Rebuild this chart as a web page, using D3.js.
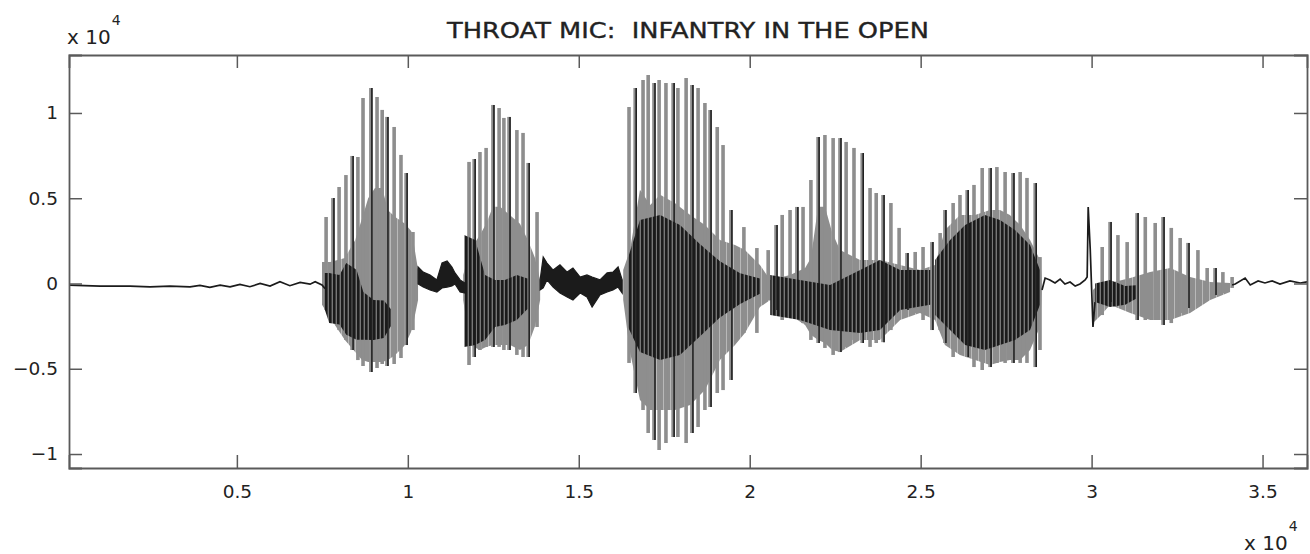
<!DOCTYPE html>
<html>
<head>
<meta charset="utf-8">
<script src="https://cdn.jsdelivr.net/npm/d3@7"></script>
<style>
  body { margin: 0; background: #fff; }
  svg { display: block; }
</style>
</head>
<body>
<div id="chart"></div>
<script>
// axis limits (samples, amplitude) and ticks
var xLimits = [90, 36300];
var yLimits = [-10820, 13400];
var xTicks = [5000, 10000, 15000, 20000, 25000, 30000, 35000];
var yTicks = [-10000, -5000, 0, 5000, 10000];

// quiet stretches of the trace: [sample, amplitude]
var leadTrace = [[90,-90],[1000,-150],[1870,-150],[2460,-200],[3040,-150],[3630,-200],[3920,-110],[4210,-230],[4510,-100],[4800,-200],[5090,-50],[5380,-190],[5680,0],[5970,-150],[6260,100],[6550,-130],[6850,60],[7140,-40],[7290,110],[7490,-90],[7580,-300]];
var gapTrace = [[28550,-380],[28640,320],[28780,210],[28930,30],[29080,260],[29220,-30],[29370,90],[29520,-150],[29660,-30],[29810,210],[29870,380],[29900,4490],[29960,2000],[30040,-2550],[30100,-1090]];
var tailTrace = [[34110,-90],[34200,-30],[34490,320],[34640,-90],[34870,150],[35070,30],[35280,150],[35510,-30],[35800,150],[36100,30],[36300,90]];

// unvoiced hiss between syllables: [sample, high, low]
var noiseBandA = [[10300,970,-30],[10450,670,-210],[10650,500,-380],[10850,210,-500],[11000,1200,-260],[11150,1320,-210],[11290,970,-150],[11380,620,-30],[11530,210,-500],[11670,30,-560]];
var noiseBandB = [[13870,210,-380],[13960,1550,-260],[14070,1200,210],[14250,790,-210],[14450,1090,-560],[14660,670,-790],[14830,910,-970],[15040,380,-560],[15240,500,-790],[15390,380,-1380],[15620,210,-670],[15830,620,-500],[16000,670,-380],[16150,970,-210],[16270,210,-560]];

// voiced syllables: pitch pulses [sample, peak, trough]
var syllable1Pulses = [[7610,3900,-1550],[7810,5010,-2260],[7990,5660,-2730],[8190,6360,-3310],[8370,7480,-3900],[8540,7420,-4490],[8690,10880,-4840],[8920,11470,-5190],[9100,10940,-4960],[9250,10180,-4720],[9390,9770,-4840],[9600,9180,-4720],[9800,7540,-4370],[9950,6480,-3610],[10150,3020,-2730]];
var syllable2Pulses = [[11790,7130,-4780],[11940,7300,-4310],[12110,7710,-3900],[12290,7950,-3720],[12490,10470,-3720],[12670,10290,-3720],[12810,9710,-3900],[12960,9770,-3900],[13190,9000,-4190],[13370,8830,-4310],[13520,7070,-4310],[13780,4190,-2550]];
var syllable3Pulses = [[16470,10350,-4660],[16650,11470,-6420],[16880,11940,-7420],[17030,12230,-8770],[17200,11760,-9180],[17350,11940,-9770],[17550,11760,-9360],[17760,11760,-9000],[17900,11470,-9000],[18140,12050,-9360],[18310,11640,-8770],[18490,11470,-8420],[18690,10590,-7420],[18840,10180,-7240],[19050,9180,-6420],[19220,8120,-6250],[19450,4310,-5660],[19830,3310,-2900],[20210,2080,-2900]];
var syllable4Pulses = [[20540,1960,-970],[20770,3430,-1550],[20950,4020,-2140],[21180,4310,-1730],[21380,4490,-1960],[21560,4490,-2320],[21790,6070,-3310],[22000,8590,-3490],[22200,8710,-3780],[22440,8530,-4190],[22640,8530,-4020],[22820,8300,-3720],[23050,7950,-3310],[23290,7650,-3490],[23520,5600,-3720],[23700,5310,-3490],[23900,5190,-3440],[24130,4720,-2730],[24370,3260,-1730],[24600,1790,-1550],[24840,1850,-1730],[25070,2140,-2140],[25330,2430,-2730]];
var syllable5Pulses = [[25570,2960,-2730],[25710,4310,-3490],[25950,4720,-4310],[26150,5190,-3900],[26360,5480,-4310],[26560,5780,-4900],[26800,6770,-5070],[27030,6770,-4900],[27230,6830,-4660],[27470,6540,-4660],[27700,6480,-4660],[27910,6540,-4660],[28110,6190,-4660],[28350,5890,-4900],[28490,1550,-3900]];
var syllable6Pulses = [[30310,2140,-1850],[30540,3610,-1090],[30770,2840,-970],[31040,2430,-1260],[31330,4130,-2140],[31570,3900,-2140],[31860,3550,-2140],[32090,3900,-2430],[32330,3260,-2320],[32590,2670,-1730],[32820,2380,-1440],[33110,1960,-970],[33380,910,-850],[33610,910,-670],[33840,670,-560],[34110,380,-260]];

// spread of the dense oscillation inside each syllable: [sample, high, low]
var syllable1Spread = [[7490,1260,-1250],[7730,1260,-2020],[8160,1500,-3310],[8460,2550,-4020],[8660,3800,-4490],[8840,5000,-4600],[9040,5600,-4600],[9250,5600,-4600],[9420,4300,-4490],[9630,3900,-4190],[9920,3500,-3610],[10120,3020,-2730],[10300,790,-970]];
var syllable2Spread = [[11620,500,-970],[11820,1960,-3610],[12110,2840,-3900],[12290,3500,-3720],[12490,4500,-3610],[12700,4500,-3610],[12990,4000,-3610],[13280,3500,-3900],[13520,2500,-3610],[13720,1500,-2500],[13870,210,-970]];
var syllable3Spread = [[16300,790,-970],[16500,1960,-4020],[16790,5500,-6830],[17090,4600,-7420],[17380,5200,-7420],[17820,4700,-7420],[18260,4020,-7130],[18690,3430,-6250],[19130,2550,-4490],[19570,2260,-3610],[19860,1960,-2900],[20300,1090,-1380],[20600,210,-970]];
var syllable4Spread = [[20600,210,-970],[21180,500,-1850],[21620,910,-2430],[21790,1500,-3000],[22000,4500,-3310],[22200,4500,-3490],[22410,3000,-3900],[22640,1960,-4020],[23230,1380,-3310],[23810,1380,-3310],[24400,1090,-2140],[24980,790,-1730],[25420,1090,-2140]];
var syllable5Spread = [[25420,1090,-2140],[25710,3140,-3610],[26150,4020,-4190],[26590,4020,-4490],[27030,4310,-4780],[27320,4310,-4600],[27610,4020,-4490],[27910,3430,-4490],[28200,2550,-3900],[28490,1380,-2550],[28550,210,-380]];
var syllable6Spread = [[30040,-380,-2320],[30280,90,-1850],[30540,30,-1250],[31130,320,-1730],[31710,670,-2140],[32300,910,-2140],[32880,380,-1730],[33470,90,-970],[34050,30,-500]];

// darkest core of each syllable: [sample, high, low]
var syllable1Core = [[7550,620,-1400],[7700,620,-2320],[8000,500,-2400],[8200,1200,-3000],[8500,800,-3300],[8700,-500,-3300],[9000,-970,-3310],[9300,-1000,-3200],[9500,-1500,-2500]];
var syllable2Core = [[11650,2840,-3720],[11970,2550,-3610],[12260,500,-3310],[12550,210,-2550],[12840,210,-2430],[13190,500,-2140],[13500,300,-1500]];
var syllable3Core = [[16440,1500,-2550],[16790,3720,-4020],[17380,4020,-4490],[17960,3430,-4190],[18550,2300,-3100],[19130,1300,-2000],[19720,600,-1200],[20300,300,-600]];
var syllable4Core = [[20600,500,-1850],[21470,210,-2140],[22350,-90,-2730],[23230,790,-2900],[23810,1380,-2730],[24400,790,-1550],[25280,790,-1250]];
var syllable5Core = [[25420,1380,-1850],[25860,2550,-2730],[26300,3430,-3610],[26880,4020,-3900],[27320,3720,-3610],[27760,3140,-3310],[28200,2260,-2730],[28490,790,-1250]];
var syllable6Core = [[30100,0,-1090],[30540,200,-1380],[30980,-150,-1250],[31300,-100,-900]];

var syllables = [
  {pulses: syllable1Pulses, spread: syllable1Spread, core: syllable1Core},
  {pulses: syllable2Pulses, spread: syllable2Spread, core: syllable2Core},
  {pulses: syllable3Pulses, spread: syllable3Spread, core: syllable3Core},
  {pulses: syllable4Pulses, spread: syllable4Spread, core: syllable4Core},
  {pulses: syllable5Pulses, spread: syllable5Spread, core: syllable5Core},
  {pulses: syllable6Pulses, spread: syllable6Spread, core: syllable6Core}
];

var svgWidth = 1310;
var svgHeight = 554;
var margin = {top: 55, right: 3, bottom: 86, left: 69};
var width = svgWidth - margin.left - margin.right;
var height = svgHeight - margin.top - margin.bottom;

var grey = "#8e8e8e";
var ink = "#1b1b1b";
var axisColor = "#5a5a5a";
var font = "'DejaVu Sans', Verdana, sans-serif";

var svg = d3.select("#chart").append("svg")
  .attr("width", svgWidth)
  .attr("height", svgHeight);

// striped fills that mimic the tightly packed oscillation
var defs = svg.append("defs");
var stripes = defs.append("pattern")
  .attr("id", "coreStripes")
  .attr("patternUnits", "userSpaceOnUse")
  .attr("width", 4).attr("height", 8);
stripes.append("rect").attr("width", 4).attr("height", 8).attr("fill", "#777");
stripes.append("rect").attr("width", 2.6).attr("height", 8).attr("fill", ink);

var greyStripes = defs.append("pattern")
  .attr("id", "spreadStripes")
  .attr("patternUnits", "userSpaceOnUse")
  .attr("width", 7).attr("height", 8);
greyStripes.append("rect").attr("width", 7).attr("height", 8).attr("fill", "#b9b9b9");
greyStripes.append("rect").attr("width", 6).attr("height", 8).attr("fill", grey);

var g = svg.append("g")
  .attr("transform", `translate(${margin.left}, ${margin.top})`);

var x = d3.scaleLinear().domain(xLimits).range([0, width]);
var y = d3.scaleLinear().domain(yLimits).range([height, 0]);

g.append("clipPath").attr("id", "plotClip")
  .append("rect").attr("width", width).attr("height", height);

var plot = g.append("g").attr("clip-path", "url(#plotClip)");

var band = d3.area()
  .x(d => x(d[0]))
  .y0(d => y(d[2]))
  .y1(d => y(d[1]));

var trace = d3.line()
  .x(d => x(d[0]))
  .y(d => y(d[1]));

// grey spread of dense oscillation
plot.selectAll(".spread")
  .data(syllables)
  .enter().append("path")
  .attr("class", "spread")
  .attr("d", d => band(d.spread))
  .attr("fill", "url(#spreadStripes)");

// pitch pulses (grey strips)
syllables.forEach(function(s) {
  plot.selectAll(null)
    .data(s.pulses)
    .enter().append("line")
    .attr("x1", d => x(d[0]))
    .attr("x2", d => x(d[0]))
    .attr("y1", d => y(d[1]))
    .attr("y2", d => y(d[2]))
    .attr("stroke", grey)
    .attr("stroke-width", 3.6);
});

// dark cores
plot.selectAll(".core")
  .data(syllables)
  .enter().append("path")
  .attr("class", "core")
  .attr("d", d => band(d.core))
  .attr("fill", "url(#coreStripes)");

// thin dark strokes inside some pulses
syllables.forEach(function(s) {
  plot.selectAll(null)
    .data(s.pulses.filter((d, i) => i % 3 === 1))
    .enter().append("line")
    .attr("x1", d => x(d[0]) + 1)
    .attr("x2", d => x(d[0]) + 1)
    .attr("y1", d => y(d[1]))
    .attr("y2", d => y(d[2]))
    .attr("stroke", ink)
    .attr("stroke-width", 1.5);
});

// hiss between syllables
plot.selectAll(".noise")
  .data([noiseBandA, noiseBandB])
  .enter().append("path")
  .attr("class", "noise")
  .attr("d", band)
  .attr("fill", ink)
  .attr("stroke", ink)
  .attr("stroke-width", 1.2);

// quiet trace
plot.selectAll(".trace")
  .data([leadTrace, gapTrace, tailTrace])
  .enter().append("path")
  .attr("class", "trace")
  .attr("d", trace)
  .attr("fill", "none")
  .attr("stroke", ink)
  .attr("stroke-width", 1.7);

// axes (ticks point inwards, box on)
var fmt = d => d3.format("")(d / 1e4).replace("-", "\u2212");
var tick = 13;

g.append("g")
  .attr("transform", `translate(0, ${height})`)
  .call(d3.axisBottom(x).tickValues(xTicks).tickSize(-tick).tickPadding(17).tickFormat(fmt));
g.append("g")
  .call(d3.axisLeft(y).tickValues(yTicks).tickSize(-tick).tickPadding(11).tickFormat(fmt));
g.append("g")
  .call(d3.axisTop(x).tickValues(xTicks).tickSize(-tick).tickFormat(""));
g.append("g")
  .attr("transform", `translate(${width}, 0)`)
  .call(d3.axisRight(y).tickValues(yTicks).tickSize(-tick).tickFormat(""));

g.selectAll(".domain").attr("stroke", axisColor).attr("stroke-width", 1.8);
g.selectAll(".tick line").attr("stroke", axisColor).attr("stroke-width", 1.5);
g.selectAll(".tick text")
  .attr("fill", "#222")
  .style("font-family", font)
  .style("font-size", "18.5px");

// title
svg.append("text")
  .attr("x", 688)
  .attr("y", 38)
  .attr("text-anchor", "middle")
  .attr("textLength", 482)
  .attr("lengthAdjust", "spacingAndGlyphs")
  .style("font-family", font)
  .style("font-size", "21.5px")
  .style("white-space", "pre")
  .attr("fill", "#222")
  .attr("stroke", "#222")
  .attr("stroke-width", 0.35)
  .text("THROAT MIC:  INFANTRY IN THE OPEN");

// exponent labels
function exponent(xPos, yPos) {
  var t = svg.append("text")
    .attr("x", xPos)
    .attr("y", yPos)
    .style("font-family", font)
    .attr("fill", "#222");
  t.append("tspan").style("font-size", "20px").text("x 10");
  t.append("tspan").attr("dy", -19).attr("dx", 1).style("font-size", "14px").text("4");
}
exponent(67, 44);
exponent(1244, 550);
</script>
</body>
</html>
